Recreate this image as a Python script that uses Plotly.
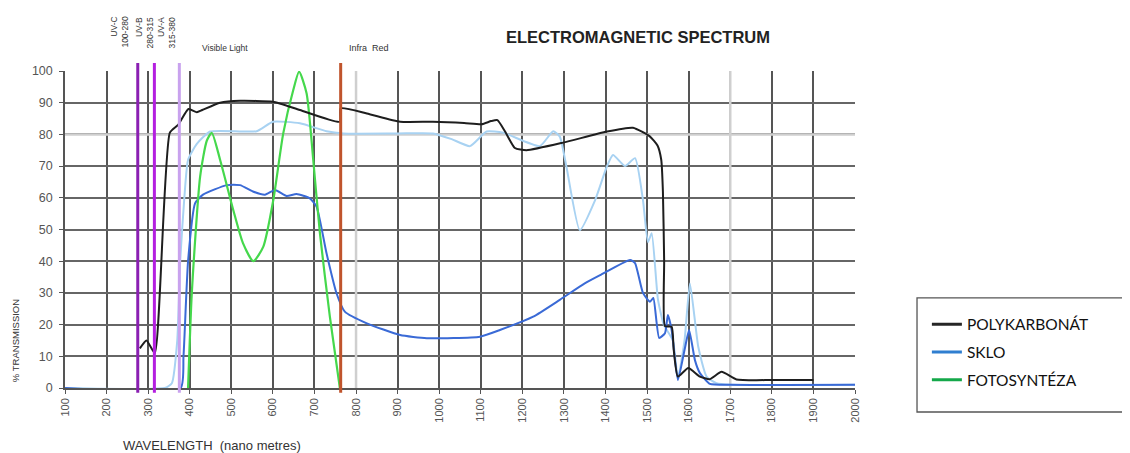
import plotly.graph_objects as go

# ---------------- data ----------------
pc_x = [280, 296, 316, 352, 372, 397, 417, 430, 473, 521, 600, 665, 761, 763, 826, 906, 985, 1060, 1102, 1125,
        1140, 1158, 1182, 1210, 1298, 1403, 1466, 1507, 1525, 1534, 1538, 1541, 1543, 1559, 1564, 1574, 1599,
        1627, 1651, 1679, 1715, 1800, 1900]
pc_y = [12.5, 15, 11, 80.5, 83, 88, 87, 87.7, 90, 90.6, 90.3, 87.7, 84, 88.2, 86.6, 84, 84, 83.6, 83.2, 84.2,
        84.5, 81, 75.7, 75, 77.4, 80.9, 82.1, 79.3, 76.5, 72, 62, 40, 19.5, 19.3, 12, 3.6, 6.3,
        3.6, 2.8, 5.1, 2.7, 2.5, 2.5]

lb_x = [100, 340, 357, 370, 377, 387, 396, 417, 449, 561, 600, 665, 729, 769, 900, 985, 1030, 1074, 1114, 1154,
        1242, 1274, 1290, 1306, 1338, 1375, 1403, 1418, 1447, 1471, 1490, 1502, 1511, 1526, 1540, 1562, 1574,
        1590, 1603, 1623, 1643, 1667, 1700, 2000]
lb_y = [0, 0, 1.5, 15, 40, 60, 72, 77, 80.9, 81, 84, 83.5, 81, 80.3, 80.3, 80.3, 78.5, 76.3, 80.9, 80.5,
        76.3, 81, 79.3, 69.8, 49.8, 59.3, 69.8, 73.5, 70, 72.5, 59.3, 46, 48.8, 28, 20, 15, 3,
        15, 33, 13, 3.6, 1.5, 1, 1]

sk_x = [100, 378, 385, 396, 413, 432, 489, 521, 552, 581, 605, 633, 657, 689, 705, 729, 753, 773, 826, 906,
        970, 1098, 1146, 1226, 1290, 1350, 1387, 1459, 1471, 1490, 1507, 1515, 1529, 1543, 1550, 1559, 1574,
        1590, 1601, 1615, 1627, 1651, 1700, 2000]
sk_y = [0, 0, 10, 40, 58.3, 61, 64, 64, 62, 61, 62.5, 60.6, 61.2, 59.8, 57.2, 42.5, 29.9, 24.1, 20.4, 16.7,
        15.7, 16.2, 18.3, 22.5, 27.8, 33, 35.6, 40.4, 39.4, 30, 27.2, 28.4, 15.8, 17.3, 23, 18.3, 2.5,
        12, 18.3, 8.8, 4.7, 1.3, 1, 1]

fo_x = [396, 405, 425, 441, 453, 473, 505, 528, 553, 577, 601, 625, 649, 663, 681, 697, 713, 737, 761]
fo_y = [0, 30, 66.7, 78, 80.5, 72, 56, 45.7, 40, 44.6, 59.3, 80.4, 94, 99.8, 93, 72, 48.9, 22.5, 0]

band_lines = [275, 315, 375, 763]
band_colors = ["#8A1FB2", "#B41FE0", "#C9A2EE", "#C0542C"]
light_x_grid = [800, 1700]
light_y_grid = [80]

x_ticks = list(range(100, 2001, 100))
y_ticks = list(range(0, 101, 10))

legend_names = ["POLYKARBONÁT", "SKLO", "FOTOSYNTÉZA"]
legend_colors = ["#262626", "#2F7ED0", "#14A84A"]

FONT = "Liberation Sans"

fig = go.Figure()

fig.add_trace(go.Scatter(x=lb_x, y=lb_y, mode="lines", showlegend=False,
                         line=dict(color="#A8D2F2", width=2, shape="spline", smoothing=0.5)))
fig.add_trace(go.Scatter(x=sk_x, y=sk_y, mode="lines", showlegend=False,
                         line=dict(color="#3A6AD6", width=2, shape="spline", smoothing=0.5)))
fig.add_trace(go.Scatter(x=fo_x, y=fo_y, mode="lines", showlegend=False,
                         line=dict(color="#45D84C", width=2.2, shape="spline", smoothing=0.6)))
fig.add_trace(go.Scatter(x=pc_x, y=pc_y, mode="lines", showlegend=False,
                         line=dict(color="#1E1E1E", width=2, shape="spline", smoothing=0.5)))

for i, (n, c) in enumerate(zip(legend_names, legend_colors)):
    fig.add_trace(go.Scatter(x=[None], y=[None], mode="lines", name=n, legendgroup=n,
                             line=dict(color=c, width=3)))

shapes = []
for xv in light_x_grid:
    shapes.append(dict(type="line", xref="x", yref="y", x0=xv, x1=xv, y0=0, y1=100,
                       line=dict(color="#CFCFCF", width=2.5), layer="between"))
for yv in light_y_grid:
    shapes.append(dict(type="line", xref="x", yref="y", x0=100, x1=2000, y0=yv, y1=yv,
                       line=dict(color="#CFCFCF", width=2.5), layer="between"))
for xv, c in zip(band_lines, band_colors):
    shapes.append(dict(type="line", xref="x", yref="paper", x0=xv, x1=xv, y0=-0.015, y1=1.025,
                       line=dict(color=c, width=3), layer="above"))
# legend frame
shapes.append(dict(type="rect", xref="paper", yref="paper", x0=1.0785, x1=1.40, y0=-0.0757, y1=0.284,
                   line=dict(color="#555555", width=1.3), fillcolor="rgba(0,0,0,0)"))

ann = [
    dict(text="<b>ELECTROMAGNETIC SPECTRUM</b>", x=0.725, y=1.107, xanchor="center", yanchor="middle",
         font=dict(family=FONT, size=16.5, color="#222")),
    dict(text="Visible Light", x=0.2025, y=1.0726, xanchor="center", yanchor="middle",
         font=dict(family=FONT, size=8.5, color="#333")),
    dict(text="Infra  Red", x=0.385, y=1.0726, xanchor="center", yanchor="middle",
         font=dict(family=FONT, size=9, color="#333")),
    dict(text="UV-C<br>100-280", x=0.0686, y=1.177, xanchor="center", yanchor="top",
         textangle=-90, align="right", font=dict(family=FONT, size=8.5, color="#333")),
    dict(text="UV-B<br>280-315<br>UV-A<br>315-380", x=0.1146, y=1.177, xanchor="center", yanchor="top",
         textangle=-90, align="right", font=dict(family=FONT, size=8.5, color="#333")),
    dict(text="% TRANSMISSION", x=-0.0633, y=0.151, xanchor="center", yanchor="middle",
         textangle=-90, font=dict(family=FONT, size=9.5, color="#333")),
    dict(text="WAVELENGTH  (nano metres)", x=0.186, y=-0.18, xanchor="center", yanchor="middle",
         font=dict(family=FONT, size=13, color="#333")),
]
for a in ann:
    a.update(xref="paper", yref="paper", showarrow=False)

fig.update_layout(
    width=1130, height=453,
    margin=dict(l=57, r=283, t=63, b=73),
    paper_bgcolor="white", plot_bgcolor="white",
    shapes=shapes, annotations=ann,
    showlegend=True,
    legend=dict(x=1.091, y=0.253, xanchor="left", yanchor="top", borderwidth=0,
                bgcolor="rgba(0,0,0,0)", traceorder="grouped", tracegroupgap=4.5,
                font=dict(family="Lato", size=15.5, color="#111")),
    xaxis=dict(range=[100, 2000], tickmode="array", tickvals=x_ticks, ticktext=[str(v) for v in x_ticks],
               tickangle=-90, tickfont=dict(family=FONT, size=11, color="#555"),
               showgrid=True, gridcolor="#555555", gridwidth=1.5, zeroline=False,
               showline=True, linecolor="#555555", linewidth=1.5, mirror=False,
               ticks="outside", ticklen=4, tickcolor="#555555"),
    yaxis=dict(range=[0, 100], tickmode="array", tickvals=y_ticks,
               tickfont=dict(family=FONT, size=12.5, color="#555"), ticklabelstandoff=4,
               showgrid=True, gridcolor="#666666", gridwidth=2, zeroline=False,
               showline=True, linecolor="#555555", linewidth=1.5,
               ticks="outside", ticklen=4, tickcolor="#555555"),
)

fig.write_html("out.html")
